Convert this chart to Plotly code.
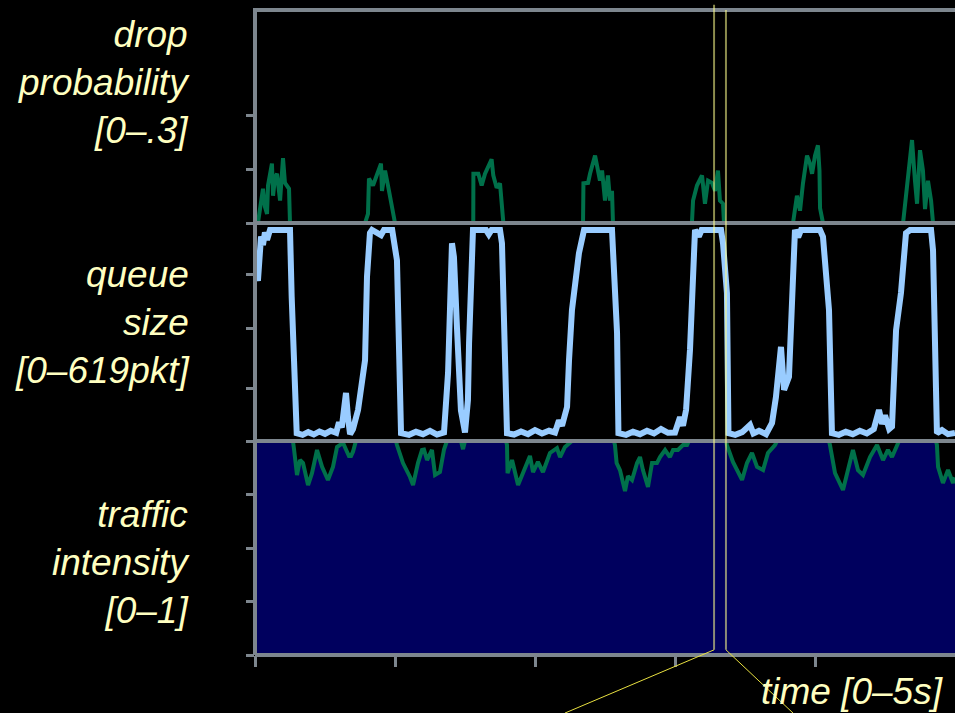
import plotly.graph_objects as go
from plotly.subplots import make_subplots

# ---------------- data ----------------
# time axis: 0-5 s
t_queue = [0.000, 0.021, 0.043, 0.057, 0.071, 0.086, 0.107, 0.250, 0.262, 0.298,
           0.340, 0.380, 0.420, 0.460, 0.500, 0.540, 0.580, 0.600, 0.620, 0.636,
           0.650, 0.664, 0.679, 0.700, 0.736, 0.786, 0.800, 0.821, 0.836, 0.900,
           0.921, 0.980, 1.014, 1.043,
           1.100, 1.150, 1.200, 1.250, 1.300, 1.350, 1.379, 1.407, 1.421, 1.443,
           1.471, 1.500, 1.521, 1.529, 1.543, 1.557, 1.650, 1.670, 1.690, 1.750,
           1.764, 1.779, 1.800,
           1.850, 1.900, 1.950, 2.000, 2.050, 2.100, 2.143, 2.171, 2.193, 2.214,
           2.229, 2.243, 2.264, 2.314, 2.350, 2.550, 2.586, 2.596,
           2.650, 2.700, 2.750, 2.800, 2.850, 2.900, 2.950, 3.000, 3.036, 3.057,
           3.079, 3.107, 3.129, 3.143, 3.170, 3.190, 3.329, 3.343, 3.371, 3.382,
           3.430, 3.480, 3.536, 3.560, 3.600, 3.650, 3.693, 3.721, 3.757, 3.779,
           3.814, 3.829, 3.843, 3.857, 3.880, 3.900, 4.036, 4.057, 4.100, 4.121,
           4.170, 4.220, 4.270, 4.320, 4.370, 4.420, 4.457, 4.479, 4.500, 4.530,
           4.550, 4.579, 4.614, 4.650, 4.679, 4.829, 4.843, 4.871, 4.907, 4.950,
           5.000]
queue_pkts = [500, 470, 600, 575, 612, 590, 619, 619, 423, 23,
              18, 26, 19, 28, 21, 30, 24, 55, 40, 110,
              141, 70, 20, 35, 91, 237, 482, 610, 619, 604,
              619, 619, 530, 23,
              18, 27, 20, 30, 19, 25, 200, 580, 540, 330,
              90, 25, 120, 287, 500, 619, 619, 606, 619, 619,
              580, 384, 23,
              19, 28, 20, 32, 22, 30, 25, 60, 45, 70,
              100, 237, 384, 551, 619, 619, 317, 23,
              18, 27, 20, 30, 22, 35, 24, 25, 70, 45,
              91, 267, 482, 619, 600, 619, 619, 580, 434, 23,
              18, 26, 47, 22, 30, 20, 53, 129, 276, 150,
              188, 335, 531, 619, 598, 619, 619, 599, 384, 23,
              18, 27, 20, 30, 22, 35, 91, 50, 75, 35,
              42, 325, 434, 610, 619, 619, 560, 23, 32, 20,
              24]

t_drop = [0.000, 0.021, 0.057, 0.071, 0.086, 0.093, 0.121, 0.129, 0.143, 0.157,
          0.179, 0.200, 0.214, 0.243, 0.250,
          0.786, 0.807, 0.814, 0.843, 0.871, 0.900, 0.907, 0.929, 0.950, 0.971, 1.000,
          1.559, 1.560, 1.595, 1.619, 1.643, 1.667, 1.690, 1.702, 1.726, 1.750, 1.774,
          2.343, 2.346, 2.379, 2.393, 2.429, 2.450, 2.464, 2.479, 2.500, 2.521, 2.536,
          2.550, 2.557,
          3.121, 3.129, 3.157, 3.193, 3.214, 3.236, 3.264, 3.286, 3.307, 3.321, 3.343,
          3.350,
          3.843, 3.871, 3.893, 3.914, 3.943, 3.964, 3.979, 4.000, 4.021, 4.032, 4.036,
          4.057,
          4.629, 4.664, 4.693, 4.714, 4.729, 4.750, 4.771, 4.786, 4.807, 4.829, 4.843,
          5.000]
drop_prob = [0, 0, 0.064, 0.030, 0.017, 0.070, 0.111, 0.051, 0.085, 0.092,
             0.042, 0.121, 0.075, 0.064, 0,
             0, 0.017, 0.083, 0.070, 0.092, 0.111, 0.060, 0.098, 0.070, 0.042, 0,
             0, 0.092, 0.092, 0.070, 0.092, 0.104, 0.119, 0.089, 0.066, 0.074, 0,
             0, 0.074, 0.075, 0.092, 0.126, 0.094, 0.079, 0.098, 0.042, 0.089, 0.042,
             0.060, 0,
             0, 0.042, 0.070, 0.089, 0.036, 0.079, 0.075, 0.060, 0.098, 0.042, 0.036,
             0,
             0, 0.051, 0.023, 0.074, 0.126, 0.111, 0.092, 0.126, 0.145, 0.098, 0.028,
             0,
             0, 0.092, 0.155, 0.079, 0.036, 0.136, 0.098, 0.026, 0.079, 0.042, 0,
             0]

t_traffic = [0.000, 0.271, 0.279, 0.300, 0.321, 0.343, 0.379, 0.407, 0.443, 0.479,
             0.521, 0.557, 0.586, 0.629, 0.657, 0.671, 0.686, 0.700, 0.721,
             1.007, 1.014, 1.057, 1.107, 1.129, 1.164, 1.193, 1.207, 1.229, 1.264,
             1.286, 1.321, 1.350, 1.371, 1.471, 1.486, 1.500,
             1.793, 1.800, 1.804, 1.836, 1.879, 1.929, 1.964, 1.986, 2.021, 2.057,
             2.107, 2.157, 2.179, 2.214, 2.250, 2.264,
             2.564, 2.571, 2.583, 2.607, 2.629, 2.643, 2.664, 2.693, 2.729, 2.750,
             2.771, 2.807, 2.836, 2.871, 2.893, 2.929, 2.964, 2.986, 3.021, 3.057,
             3.086, 3.100,
             3.364, 3.371, 3.414, 3.479, 3.514, 3.550, 3.586, 3.629, 3.664, 3.714, 3.729,
             4.100, 4.107, 4.143, 4.200, 4.229, 4.271, 4.307, 4.343, 4.393, 4.443,
             4.486, 4.521, 4.550, 4.586, 4.600,
             4.864, 4.871, 4.879, 4.914, 4.950, 4.986, 5.000]
traffic = [1.0, 1.0, 0.960, 0.841, 0.911, 0.897, 0.794, 0.850, 0.958, 0.879,
           0.818, 0.879, 0.972, 0.991, 0.950, 0.930, 0.930, 0.950, 1.0,
           1.0, 0.981, 0.897, 0.832, 0.794, 0.897, 0.958, 0.960, 0.911, 0.958,
           0.841, 0.855, 0.960, 1.0, 1.0, 0.962, 1.0,
           1.0, 0.981, 0.850, 0.911, 0.794, 0.879, 0.930, 0.855, 0.902, 0.855,
           0.944, 0.967, 0.925, 0.972, 0.991, 1.0,
           1.0, 0.981, 0.897, 0.864, 0.804, 0.766, 0.836, 0.818, 0.897, 0.925,
           0.864, 0.785, 0.897, 0.897, 0.925, 0.958, 0.925, 0.958, 0.958, 0.981,
           0.981, 1.0,
           1.0, 0.981, 0.902, 0.818, 0.897, 0.944, 0.879, 0.864, 0.944, 0.981, 1.0,
           1.0, 0.981, 0.850, 0.771, 0.850, 0.958, 0.864, 0.841, 0.925, 0.981,
           0.911, 0.958, 0.925, 0.981, 1.0,
           1.0, 0.981, 0.879, 0.804, 0.864, 0.804, 0.830]

x_ticks = [0, 1, 2, 3, 4]
drop_ticks = [0, 0.1, 0.2]
queue_ticks = [0, 155, 331, 487]
traffic_ticks = [0, 0.25, 0.5, 0.75]

zoom_window = [3.279, 3.364]      # highlighted time window (s)
callout_ends = [2.214, 3.843]     # where the callout lines leave the picture (s)

panel_labels = ["drop<br>probability<br>[0–.3]",
                "queue<br>size<br>[0–619pkt]",
                "traffic<br>intensity<br>[0–1]"]
label_y = [0.888, 0.515, 0.143]   # vertical centres of the labels (paper)
x_label = "time [0–5s]"

# ---------------- styles ----------------
GREEN = "#00704a"
BLUE = "#99ccff"
NAVY = "#00005e"
GRAY = "#7d868e"
TEXT = "#ffffc0"
FONT = "Liberation Sans, Arial, sans-serif"

fig = make_subplots(rows=3, cols=1, shared_xaxes=True, vertical_spacing=0,
                    row_heights=[213, 218, 214])

fig.add_trace(go.Scatter(x=t_drop, y=drop_prob, mode="lines",
                         line=dict(color=GREEN, width=4), hoverinfo="skip"),
              row=1, col=1)
fig.add_trace(go.Scatter(x=t_queue, y=queue_pkts, mode="lines",
                         line=dict(color=BLUE, width=6), hoverinfo="skip"),
              row=2, col=1)
fig.add_trace(go.Scatter(x=t_traffic, y=traffic, mode="lines", fill="tozeroy",
                         fillcolor=NAVY, line=dict(color=GREEN, width=4),
                         hoverinfo="skip"),
              row=3, col=1)

for r in (1, 2, 3):
    fig.update_xaxes(range=[0, 5], showgrid=False, zeroline=False, showline=False,
                     showticklabels=False, ticks="", row=r, col=1)
fig.update_xaxes(ticks="outside", tickvals=x_ticks, ticklen=11, tickwidth=3,
                 tickcolor=GRAY, row=3, col=1)

yax_common = dict(showgrid=False, zeroline=False, showline=False,
                  showticklabels=False, ticks="outside", ticklen=8,
                  tickwidth=3, tickcolor=GRAY)
fig.update_yaxes(range=[0, 0.398], tickvals=drop_ticks, row=1, col=1, **yax_common)
fig.update_yaxes(range=[0, 639.5], tickvals=queue_ticks, row=2, col=1, **yax_common)
fig.update_yaxes(range=[0, 1], tickvals=traffic_ticks, row=3, col=1, **yax_common)

# panel frame lines
border = dict(color=GRAY, width=4)
shapes = [
    dict(type="line", xref="paper", yref="y domain", x0=0, x1=1, y0=1, y1=1),
    dict(type="line", xref="paper", yref="y domain", x0=0, x1=1, y0=0, y1=0),
    dict(type="line", xref="paper", yref="y2 domain", x0=0, x1=1, y0=0, y1=0),
    dict(type="line", xref="paper", yref="y3 domain", x0=0, x1=1, y0=0, y1=0),
    dict(type="line", xref="paper", yref="paper", x0=0, x1=0, y0=0, y1=1.003),
]
for s in shapes:
    s.update(line=border, layer="above")
    fig.add_shape(**s)

# zoom window callout
bottom_y = 0.008
fig.add_shape(type="line", xref="x", yref="paper", x0=zoom_window[0], x1=zoom_window[0],
              y0=bottom_y, y1=1.008, line=dict(color="rgba(255,255,140,0.55)", width=2),
              layer="above")
fig.add_shape(type="line", xref="x", yref="paper", x0=zoom_window[1], x1=zoom_window[1],
              y0=bottom_y, y1=1.0, line=dict(color="rgba(255,255,140,0.55)", width=2),
              layer="above")
fig.add_shape(type="line", xref="x", yref="paper", x0=zoom_window[0], x1=callout_ends[0],
              y0=bottom_y, y1=-0.09, line=dict(color="#e8e040", width=1), layer="above")
fig.add_shape(type="line", xref="x", yref="paper", x0=zoom_window[1], x1=callout_ends[1],
              y0=bottom_y, y1=-0.09, line=dict(color="#e8e040", width=1), layer="above")

label_font = dict(family=FONT, size=37, color=TEXT, style="italic")
for lbl, ly in zip(panel_labels, label_y):
    fig.add_annotation(text=lbl, xref="paper", yref="paper", x=0, y=ly,
                       xanchor="right", yanchor="middle", align="right",
                       xshift=-63, showarrow=False, font=label_font)

fig.add_annotation(text=x_label, xref="paper", yref="paper", x=0.986, y=-0.056,
                   xanchor="right", yanchor="middle", align="right",
                   showarrow=False, font=label_font)

fig.update_layout(width=955, height=713,
                  margin=dict(l=255, r=0, t=10, b=58),
                  paper_bgcolor="black", plot_bgcolor="black",
                  showlegend=False)

fig.write_html("out.html")
